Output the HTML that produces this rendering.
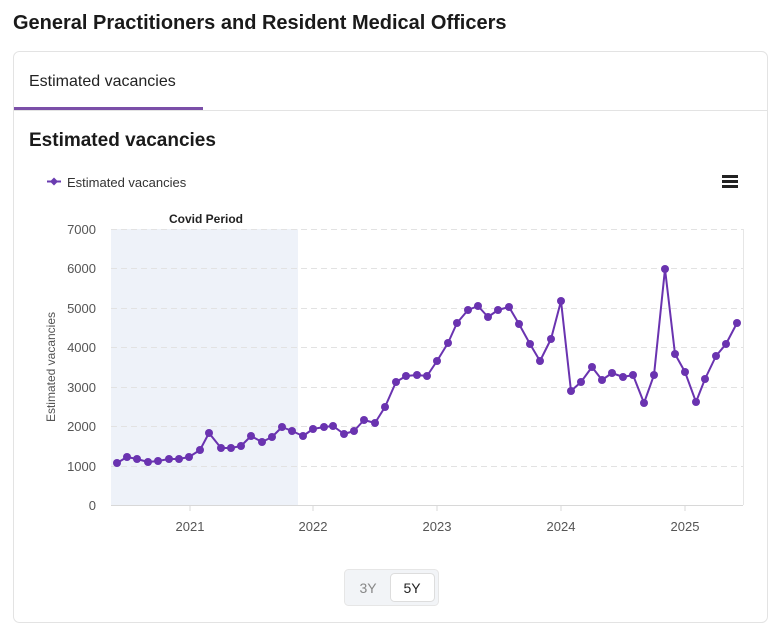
<!DOCTYPE html><html><head><meta charset="utf-8"><style>
body{margin:0;width:776px;height:630px;background:#fff;font-family:"Liberation Sans",sans-serif;overflow:hidden}
</style></head><body>
<svg width="776" height="630" xmlns="http://www.w3.org/2000/svg" style="position:absolute;left:0;top:0;font-family:'Liberation Sans',sans-serif">
<text x="13" y="29" font-size="20" font-weight="bold" fill="#1a1a1a">General Practitioners and Resident Medical Officers</text>
<rect x="13.5" y="51.5" width="754" height="571" rx="6" fill="#fff" stroke="#e3e3e3"/>
<line x1="14" y1="110.5" x2="767" y2="110.5" stroke="#e3e3e3"/>
<rect x="14" y="107" width="189" height="3" fill="#7b4fa8"/>
<text x="29" y="86" font-size="16" fill="#222">Estimated vacancies</text>
<text x="29" y="146" font-size="19" font-weight="bold" fill="#1a1a1a">Estimated vacancies</text>
<path d="M54 177.5 l4 4 l-4 4 l-4 -4z" fill="#6a3cb0"/>
<line x1="47" y1="181.5" x2="61" y2="181.5" stroke="#6a3cb0" stroke-width="2"/>
<text x="67" y="187" font-size="13" fill="#333">Estimated vacancies</text>
<rect x="722" y="175" width="16" height="3" fill="#222"/><rect x="722" y="180" width="16" height="3" fill="#222"/><rect x="722" y="185" width="16" height="3" fill="#222"/>
<rect x="111" y="229" width="187" height="276" fill="#eef2f9"/>
<text x="206" y="223" font-size="12" font-weight="bold" fill="#222" text-anchor="middle">Covid Period</text>
<g stroke="#e2e2e2" stroke-dasharray="6,4">
<line x1="111" y1="229.5" x2="743" y2="229.5"/><line x1="111" y1="268.5" x2="743" y2="268.5"/><line x1="111" y1="308.5" x2="743" y2="308.5"/><line x1="111" y1="347.5" x2="743" y2="347.5"/><line x1="111" y1="387.5" x2="743" y2="387.5"/><line x1="111" y1="426.5" x2="743" y2="426.5"/><line x1="111" y1="466.5" x2="743" y2="466.5"/>
</g>
<line x1="743.5" y1="229" x2="743.5" y2="505" stroke="#e6e6e6"/>
<line x1="111" y1="505.5" x2="743" y2="505.5" stroke="#d8d8d8"/>
<g stroke="#d8d8d8"><line x1="190" y1="505" x2="190" y2="511"/><line x1="313" y1="505" x2="313" y2="511"/><line x1="437" y1="505" x2="437" y2="511"/><line x1="561" y1="505" x2="561" y2="511"/><line x1="685" y1="505" x2="685" y2="511"/></g>
<g font-size="13" fill="#555" text-anchor="end">
<text x="96" y="234">7000</text><text x="96" y="273">6000</text><text x="96" y="313">5000</text><text x="96" y="352">4000</text><text x="96" y="392">3000</text><text x="96" y="431">2000</text><text x="96" y="471">1000</text><text x="96" y="510">0</text>
</g>
<g font-size="13" fill="#555" text-anchor="middle">
<text x="190" y="531">2021</text><text x="313" y="531">2022</text><text x="437" y="531">2023</text><text x="561" y="531">2024</text><text x="685" y="531">2025</text>
</g>
<text transform="translate(55,367) rotate(-90)" font-size="12" fill="#555" text-anchor="middle">Estimated vacancies</text>
<polyline fill="none" stroke="#6a33b0" stroke-width="2" stroke-linejoin="round" points="117,463 127,457 137,459 148,462 158,461 169,459 179,459 189,457 200,450 209,433 221,448 231,448 241,446 251,436 262,442 272,437 282,427 292,431 303,436 313,429 324,427 333,426 344,434 354,431 364,420 375,423 385,407 396,382 406,376 417,375 427,376 437,361 448,343 457,323 468,310 478,306 488,317 498,310 509,307 519,324 530,344 540,361 551,339 561,301 571,391 581,382 592,367 602,380 612,373 623,377 633,375 644,403 654,375 665,269 675,354 685,372 696,402 705,379 716,356 726,344 737,323"/>
<g fill="#6a33b0" id="d"></g>
<rect x="344.5" y="569.5" width="94" height="36" rx="4" fill="#f2f4f7" stroke="#e6e6e6"/>
<text x="368" y="593" font-size="14" fill="#888" text-anchor="middle">3Y</text>
<rect x="390.5" y="573.5" width="44" height="28" rx="4" fill="#fff" stroke="#ddd"/>
<text x="412" y="593" font-size="14" fill="#222" text-anchor="middle">5Y</text>
</svg>
<script>
var p="117,463 127,457 137,459 148,462 158,461 169,459 179,459 189,457 200,450 209,433 221,448 231,448 241,446 251,436 262,442 272,437 282,427 292,431 303,436 313,429 324,427 333,426 344,434 354,431 364,420 375,423 385,407 396,382 406,376 417,375 427,376 437,361 448,343 457,323 468,310 478,306 488,317 498,310 509,307 519,324 530,344 540,361 551,339 561,301 571,391 581,382 592,367 602,380 612,373 623,377 633,375 644,403 654,375 665,269 675,354 685,372 696,402 705,379 716,356 726,344 737,323".split(" ");
var g=document.getElementById("d");p.forEach(function(s){var a=s.split(",");var c=document.createElementNS("http://www.w3.org/2000/svg","circle");c.setAttribute("cx",a[0]);c.setAttribute("cy",a[1]);c.setAttribute("r","4");g.appendChild(c);});
</script>
</body></html>
